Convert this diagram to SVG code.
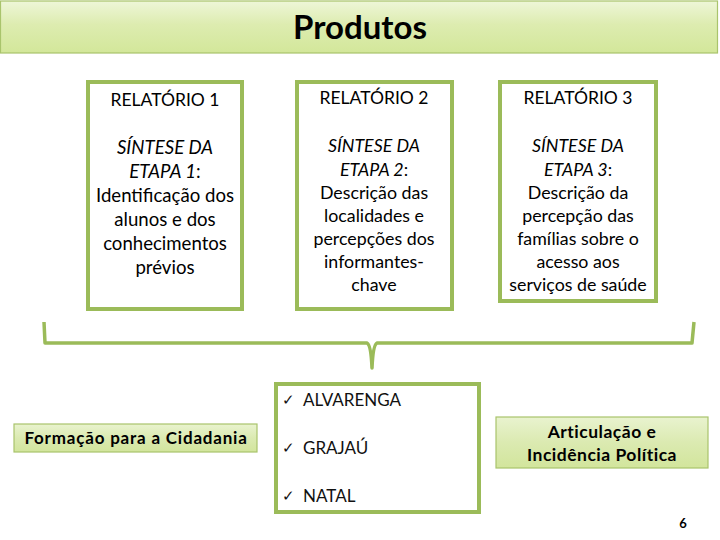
<svg xmlns="http://www.w3.org/2000/svg" width="720" height="540" viewBox="0 0 720 540">
<defs>
<linearGradient id="gTitle" x1="0" y1="0" x2="0" y2="1">
<stop offset="0" stop-color="#eef6d8"/>
<stop offset="0.45" stop-color="#ddecb0"/>
<stop offset="1" stop-color="#d3e79a"/>
</linearGradient>
<linearGradient id="gBox" x1="0" y1="0" x2="0" y2="1">
<stop offset="0" stop-color="#e9f3cf"/>
<stop offset="0.5" stop-color="#dbeab1"/>
<stop offset="1" stop-color="#d2e59c"/>
</linearGradient>
<style>
text{font-family:Lato,"Liberation Sans",sans-serif;fill:#000;}
.rep{fill:#fff;stroke:#9bbb59;stroke-width:4;}
.hd{font-size:17.5px;text-anchor:middle;}
.bd{font-size:17.8px;text-anchor:middle;}
.bd1{font-size:18.6px;text-anchor:middle;}
.it{font-style:italic;}
.lbl{fill:url(#gBox);stroke:#a9c46c;stroke-width:1.2;}
.b{font-weight:bold;}
.br{fill:none;stroke:#9bbb59;stroke-width:3.5;stroke-linejoin:round;}
.item{font-size:17px;fill:#111;}
.chk{font-size:15px;fill:#111;}
</style>
</defs>
<rect width="720" height="540" fill="#fff"/>
<g id="title">
<rect x="0.5" y="1" width="717" height="52" fill="url(#gTitle)" stroke="#a9c46c" stroke-width="1.2"/>
<text x="360" y="39" font-size="33" font-weight="bold" text-anchor="middle">Produtos</text>
</g>
<g id="relatorio1">
<rect class="rep" x="88" y="82" width="154" height="227"/>
<text class="hd" x="165" y="106">RELATÓRIO 1</text>
<text class="bd1" x="165" y="154"><tspan class="it">SÍNTESE DA</tspan></text>
<text class="bd1" x="165" y="178"><tspan class="it">ETAPA 1</tspan>:</text>
<text class="bd1" x="165" y="202">Identificação dos</text>
<text class="bd1" x="165" y="226">alunos e dos</text>
<text class="bd1" x="165" y="250">conhecimentos</text>
<text class="bd1" x="165" y="274">prévios</text>
</g>
<g id="relatorio2">
<rect class="rep" x="297" y="82" width="155" height="227"/>
<text class="hd" x="374" y="104">RELATÓRIO 2</text>
<text class="bd" x="374" y="152"><tspan class="it">SÍNTESE DA</tspan></text>
<text class="bd" x="374" y="176"><tspan class="it">ETAPA 2</tspan>:</text>
<text class="bd" x="374" y="199">Descrição das</text>
<text class="bd" x="374" y="222">localidades e</text>
<text class="bd" x="374" y="245">percepções dos</text>
<text class="bd" x="374" y="268">informantes-</text>
<text class="bd" x="374" y="291">chave</text>
</g>
<g id="relatorio3">
<rect class="rep" x="500" y="82" width="156" height="219"/>
<text class="hd" x="578" y="104">RELATÓRIO 3</text>
<text class="bd" x="578" y="152"><tspan class="it">SÍNTESE DA</tspan></text>
<text class="bd" x="578" y="176"><tspan class="it">ETAPA 3</tspan>:</text>
<text class="bd" x="578" y="199">Descrição da</text>
<text class="bd" x="578" y="222">percepção das</text>
<text class="bd" x="578" y="245">famílias sobre o</text>
<text class="bd" x="578" y="268">acesso aos</text>
<text class="bd" x="578" y="291">serviços de saúde</text>
</g>
<g id="connectors">
<path class="br" d="M44,322 L45,343 L367,343 Q371,345 372,368 Q373,345 377,343 L692,343 L694,322"/>
</g>
<g id="formacao">
<rect class="lbl" x="14" y="424" width="243" height="28"/>
<text x="136" y="444" font-size="17" letter-spacing="0.8" class="b" text-anchor="middle">Formação para a Cidadania</text>
</g>
<g id="localidades">
<rect class="rep" x="276" y="384" width="203" height="128"/>
<text class="chk" x="282" y="405">✓</text>
<text class="item" x="303" y="406">ALVARENGA</text>
<text class="chk" x="282" y="453">✓</text>
<text class="item" x="303" y="454">GRAJAÚ</text>
<text class="chk" x="282" y="501">✓</text>
<text class="item" x="303" y="502">NATAL</text>
</g>
<g id="articulacao">
<rect class="lbl" x="496" y="417" width="212" height="51"/>
<text x="602" y="438" font-size="17.5" letter-spacing="0.5" class="b" text-anchor="middle">Articulação e</text>
<text x="602" y="461" font-size="17.5" letter-spacing="0.5" class="b" text-anchor="middle">Incidência Política</text>
</g>
<g id="page">
<text x="683" y="528" font-size="13" class="b" text-anchor="middle">6</text>
</g>
</svg>
